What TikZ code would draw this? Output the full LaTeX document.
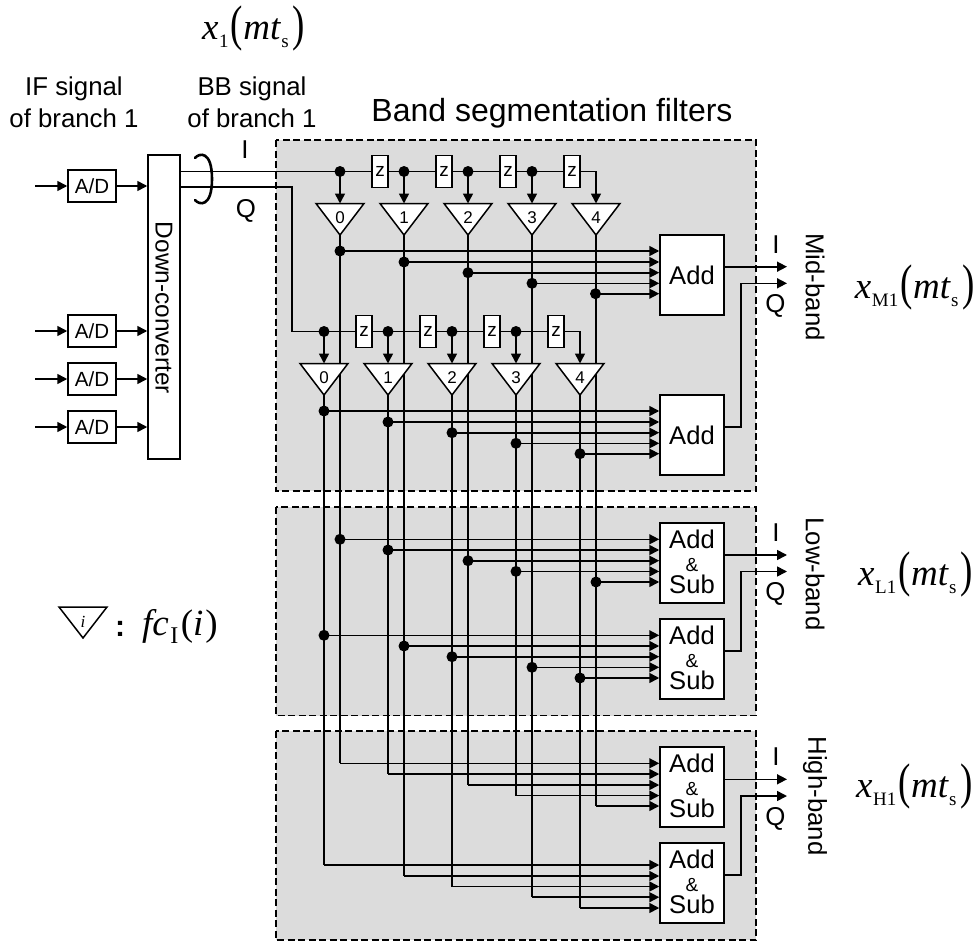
\documentclass[tikz,border=0pt]{standalone}
\usepackage{fontspec}
\setmainfont{Liberation Sans}
\newfontfamily\mathserif{Liberation Serif}
\usetikzlibrary{arrows.meta,calc}
\definecolor{panelgray}{HTML}{DCDCDC}
\newcommand{\fsz}[1]{\fontsize{#1}{#1}\selectfont}
\newcommand{\bigparen}[1]{\raisebox{-1pt}{\upshape\scalebox{1}[1.35]{#1}}}
\newcommand{\sigx}[1]{{\mathserif\fsz{37}\itshape x\kern0.5pt\raisebox{-8pt}{\upshape\fsz{19}#1}\kern2pt\bigparen{(}\kern0.5pt mt\kern1pt\raisebox{-8pt}{\upshape\fsz{19}s}\kern4pt\bigparen{)}}}
\tikzset{
 wire/.style={line width=1.6pt},
 arr/.style={wire,-{Triangle[length=10pt,width=10pt]}},
 boxn/.style={draw,line width=1.5pt,fill=white,inner sep=0pt,minimum width=#1},
 adc/.style={boxn=48pt,minimum height=32pt,font=\fsz{20.5}},
 zbox/.style={boxn=16pt,minimum height=32pt,font=\fsz{19}},
 addbox/.style={boxn=64pt,minimum height=80pt,align=center},
 dotn/.style={circle,fill=black,draw=none,minimum size=11pt,inner sep=0pt},
 panel/.style={draw,fill=panelgray,line width=1.3pt,dash pattern=on 7pt off 3.5pt},
 tri/.style={draw,line width=1.5pt,fill=white,line join=miter},
 lab/.style={font=\fsz{25.8},inner sep=0pt},
 dignum/.style={font=\fsz{17},inner sep=0pt},
}
\newcommand{\addsub}{\raisebox{2pt}{\vbox{\baselineskip=22.7pt\lineskiplimit=-100pt\lineskip=0pt
 \hbox to 62pt{\hfil\fsz{25.6}Add\hfil}
 \hbox to 62pt{\hfil\fsz{19}\&\hfil}
 \hbox to 62pt{\hfil\fsz{25.6}Sub\hfil}}}}
\begin{document}
\begin{tikzpicture}[x=1pt,y=-1pt]
\useasboundingbox (0,0) rectangle (980,942);
% panels
\path[panel] (276,140) rectangle (756,491);
\path[panel] (276,507) rectangle (756,715.5);
\path[panel] (276,731) rectangle (756,940);
% left section
\node[boxn=32pt,minimum height=304pt] (dc) at (164,307) {};
\node[font=\fsz{24.4},rotate=-90,inner sep=0pt] (dctext) at (164,308) {Down-converter};
\foreach \n/\y in {a/186,b/331,c/379,d/427}{
 \node[adc] (ad\n) at (92,\y) {A/D};
 \coordinate (in\n) at (35,\y);
 \draw[arr] (in\n) -- (ad\n.west);
 \draw[arr] (ad\n.east) -- (ad\n.east -| dc.west);
}
% dots, z boxes: upper row u, lower row l
\coordinate (dcI) at (180,171.5);
\coordinate (dcQ) at (180,187);
\coordinate (Qcorner) at (292,187);
\foreach \r/\yr/\ytri/\xa/\xz in {u/171.5/203.5/340/380, l/331.5/363.5/324/364}{
 \foreach \i in {0,...,4}{
  \pgfmathsetmacro\xt{\xa+64*\i}
  \pgfmathsetmacro\xzz{\xz+64*\i}
  \coordinate (\r top\i) at (\xt,\ytri);
  \coordinate (\r apex\i) at (\xt,\ytri+31.5);
  \coordinate (\r zc\i) at (\xzz,\yr);
  \coordinate (\r tap\i) at (\xt,\yr);
 }
}
% taps on the outputs of the coefficient multipliers
\foreach \nm/\x/\y in {
 mu0/340/251, mu1/404/262, mu2/468/272.7, mu3/532/283.3, mu4/595.5/293.7,
 ml0/324/411, ml1/388/422, ml2/452/432.7, ml3/516/443.3, ml4/580/453.7,
 la0/340/539.3, la1/388/550, la2/468/560.7, la3/516/571.4, la4/596/582,
 lb0/324/635.3, lb1/404/646, lb2/452/656.7, lb3/532/667.3, lb4/580/678}{
 \coordinate (\nm) at (\x,\y);
}
% add boxes
\node[addbox,font=\fsz{25.6}] (A1) at (692,275) {Add};
\node[addbox,font=\fsz{25.6}] (A2) at (692,435) {Add};
\node[addbox] (L1) at (692,563) {\addsub};
\node[addbox] (L2) at (692,659) {\addsub};
\node[addbox] (H1) at (692,787) {\addsub};
\node[addbox] (H2) at (692,883) {\addsub};
% high-band corner coordinates
\foreach \nm/\x/\y in {
 ha0/340/763.3, ha1/388/774, ha2/468/785, ha3/516/795.6, ha4/596/806,
 hb0/324/865, hb1/404/876, hb2/452/886.5, hb3/532/897.2, hb4/580/908}{
 \coordinate (\nm) at (\x,\y);
}
% verticals (drawn first, so the triangles cover them)
\draw[wire] (uapex0) |- (ha0);
\draw[wire] (uapex1) |- (hb1);
\draw[wire] (uapex2) |- (ha2);
\draw[wire] (uapex3) |- (hb3);
\draw[wire] (uapex4) |- (ha4);
\draw[wire] (lapex0) |- (hb0);
\draw[wire] (lapex1) |- (ha1);
\draw[wire] (lapex2) |- (hb2);
\draw[wire] (lapex3) |- (ha3);
\draw[wire] (lapex4) |- (hb4);
% horizontals with arrows
\foreach \i in {0,...,4}{
 \draw[arr] (mu\i) -- (mu\i -| A1.west);
 \draw[arr] (ml\i) -- (ml\i -| A2.west);
 \draw[arr] (la\i) -- (la\i -| L1.west);
 \draw[arr] (lb\i) -- (lb\i -| L2.west);
 \draw[arr] (ha\i) -- (ha\i -| H1.west);
 \draw[arr] (hb\i) -- (hb\i -| H2.west);
}
\foreach \nm in {mu0,mu1,mu2,mu3,mu4,ml0,ml1,ml2,ml3,ml4,la0,la1,la2,la3,la4,lb0,lb1,lb2,lb3,lb4}{
 \node[dotn] (dot\nm) at (\nm) {};
}
% I / Q delay lines
\draw[wire] (dcI) -- (uzc3);
\draw[wire] (dcQ) -- (Qcorner) |- (lzc3);
\draw[arr] (lzc3) -| (ltop4);
\draw[arr] (uzc3) -| (utop4);
\foreach \r in {u,l}{
 \foreach \i in {0,...,3}{
  \node[dotn] (dot\r\i) at (\r tap\i) {};
  \draw[arr] (\r tap\i) -- (\r top\i);
  \node[zbox] (zz\r\i) at (\r zc\i) {z};
 }
 \foreach \i in {0,...,4}{
  \draw[tri] (\r top\i) ++(-24,0) -- ++(48,0) -- ++(-24,31.5) -- cycle;
  \node[dignum] (d\r\i) at ($(\r top\i)+(0,14.5)$) {\i};
 }
}
% ring
\coordinate (ringA) at (195,158);
\coordinate (ringB) at (195,200);
\draw[line width=2.6pt,line cap=round] (ringA) .. controls (199,153) and (212,150) .. (212,179) .. controls (212,208) and (199,205) .. (ringB);
% outputs
\coordinate (oI1) at (787,266.7); \coordinate (oQ1) at (787,283.3);
\coordinate (oI2) at (787,555); \coordinate (oQ2) at (787,571.5);
\coordinate (oI3) at (787,779.3); \coordinate (oQ3) at (787,796);
\draw[arr] (oI1 -| A1.east) -- (oI1);
\draw[arr] (A2.east) ++(0,-8) -- ++(16,0) |- (oQ1);
\draw[arr] (oI2 -| L1.east) -- (oI2);
\draw[arr] (L2.east) ++(0,-8) -- ++(16,0) |- (oQ2);
\draw[arr] (oI3 -| H1.east) -- (oI3);
\draw[arr] (H2.east) ++(0,-8) -- ++(16,0) |- (oQ3);
% labels
\node[lab] (tI) at (245,150) {I};
\node[lab] (tQ) at (246,211) {Q};
\node[lab,align=center,font=\fsz{25.8}] (tIF) at (74,102) {IF signal\\[6pt]of branch 1};
\node[lab,align=center,font=\fsz{25.8}] (tBB) at (252,102) {BB signal\\[6pt]of branch 1};
\node[lab,font=\fsz{32}] (tBand) at (552,113) {Band segmentation filters};
\foreach \nm/\yi/\yq in {M/245/306,L/533/594,H/757/819}{
 \node[lab] (oi\nm) at (776,\yi) {I};
 \node[lab] (oq\nm) at (775.5,\yq) {Q};
}
\node[lab,rotate=-90] (bM) at (815,287) {Mid-band};
\node[lab,rotate=-90] (bL) at (815,574) {Low-band};
\node[lab,rotate=-90] (bH) at (815,796) {High-band};
\node[inner sep=0pt,anchor=base west] (x1) at (202,40) {\sigx{1}};
\node[inner sep=0pt,anchor=base east] (xM) at (975,298) {\sigx{M1}};
\node[inner sep=0pt,anchor=base east] (xL) at (973,585) {\sigx{L1}};
\node[inner sep=0pt,anchor=base east] (xH) at (973,797) {\sigx{H1}};
% legend
\draw[tri] (59,607) -- (107,607) -- (83,638) -- cycle;
\node[inner sep=0pt,font=\mathserif\itshape\fsz{17}] (li) at (83,622) {i};
\node[inner sep=0pt,anchor=base,font=\fsz{30}\bfseries] (lc) at (120,636) {:};
\node[inner sep=0pt,anchor=base west] (lf) at (142,635) {\mathserif\fsz{37}\itshape fc\kern1.5pt\raisebox{-8pt}{\upshape\fsz{24}I}\kern2.5pt\upshape(\itshape i\kern2pt\upshape)};
\end{tikzpicture}
\end{document}
